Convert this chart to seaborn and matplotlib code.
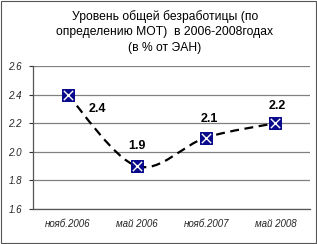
import matplotlib
matplotlib.use("Agg")
import matplotlib.pyplot as plt
import seaborn as sns
import pandas as pd
import numpy as np
from matplotlib.path import Path
from matplotlib.patches import PathPatch, Rectangle

categories = ["нояб.2006", "май 2006", "нояб.2007", "май 2008"]
values = [2.4, 1.9, 2.1, 2.2]
label_texts = ["2.4", "1.9", "2.1", "2.2"]
y_ticks = [1.6, 1.8, 2.0, 2.2, 2.4, 2.6]
title = "Уровень общей безработицы (по\nопределению МОТ)  в 2006-2008годах\n(в % от ЭАН)"

sns.set_theme(style="white")
plt.rcParams['font.family'] = ['Liberation Sans', 'DejaVu Sans']

fig = plt.figure(figsize=(3.17, 2.44), dpi=100)
ax = fig.add_axes([33/317, 1-209/244, (310-33)/317, (209-66)/244])

df = pd.DataFrame({"x": np.arange(len(categories)), "y": values})

# smoothed dashed line (Bezier through data points)
xs = df["x"].to_numpy(float); ys = df["y"].to_numpy(float)
verts = [(xs[0], ys[0])]; codes = [Path.MOVETO]
n = len(xs)
for i in range(n - 1):
    p0 = (xs[max(i-1, 0)], ys[max(i-1, 0)])
    p1 = (xs[i], ys[i]); p2 = (xs[i+1], ys[i+1])
    p3 = (xs[min(i+2, n-1)], ys[min(i+2, n-1)])
    c1 = (p1[0] + (p2[0]-p0[0])/6, p1[1] + (p2[1]-p0[1])/6)
    c2 = (p2[0] - (p3[0]-p1[0])/6, p2[1] - (p3[1]-p1[1])/6)
    verts += [c1, c2, p2]; codes += [Path.CURVE4]*3
ax.add_patch(PathPatch(Path(verts, codes), fill=False, ec="black", lw=1.6,
                       linestyle=(0, (4, 2.5)), zorder=3))

sns.scatterplot(data=df, x="x", y="y", ax=ax, marker="s", s=80, color="#0a0a8c",
                edgecolor="#0a0a8c", zorder=4, legend=False)
sns.scatterplot(data=df, x="x", y="y", ax=ax, marker="x", s=45, color="white",
                linewidth=1.0, zorder=5, legend=False)

offsets = [(30, -14), (0, 20), (3, 19), (2, 17)]
for xi, yi, t, off in zip(xs, ys, label_texts, offsets):
    ax.annotate(t, (xi, yi), xytext=off, textcoords="offset pixels",
                ha="center", va="center", fontsize=9, fontweight="bold", color="black")

ax.set_xlim(-0.5, 3.5)
ax.set_ylim(1.6, 2.6)
ax.set_yticks(y_ticks)
ax.set_yticklabels([f"{v:.1f}" for v in y_ticks], fontsize=7, fontstyle="italic")
ax.set_xticks(range(len(categories)))
ax.set_xticklabels(categories, fontsize=7, fontstyle="italic")
ax.set_xticks([-0.5, 0.5, 1.5, 2.5, 3.5], minor=True)
ax.tick_params(axis="x", which="major", length=0, pad=7)
ax.tick_params(axis="x", which="minor", length=3, width=0.8, color="#333333", direction="out")
ax.tick_params(axis="y", length=3, width=0.8, color="#333333", direction="out", pad=5, left=True)
ax.set_xlabel(""); ax.set_ylabel("")
ax.grid(axis="y", color="#808080", lw=0.9)
ax.set_axisbelow(True)
for s in ["top", "right"]:
    ax.spines[s].set_visible(False)
for s in ["left", "bottom"]:
    ax.spines[s].set_color("#555555"); ax.spines[s].set_linewidth(0.9)

fig.text(165/317, 1-32/244, title, ha="center", va="center", fontsize=8.7,
         linespacing=1.4, color="black")
fig.patches.append(Rectangle((0.002, 0.004), 0.994, 0.992, transform=fig.transFigure,
                             fill=False, ec="#555555", lw=0.8))
fig.savefig("out.png", dpi=100, facecolor="white")
